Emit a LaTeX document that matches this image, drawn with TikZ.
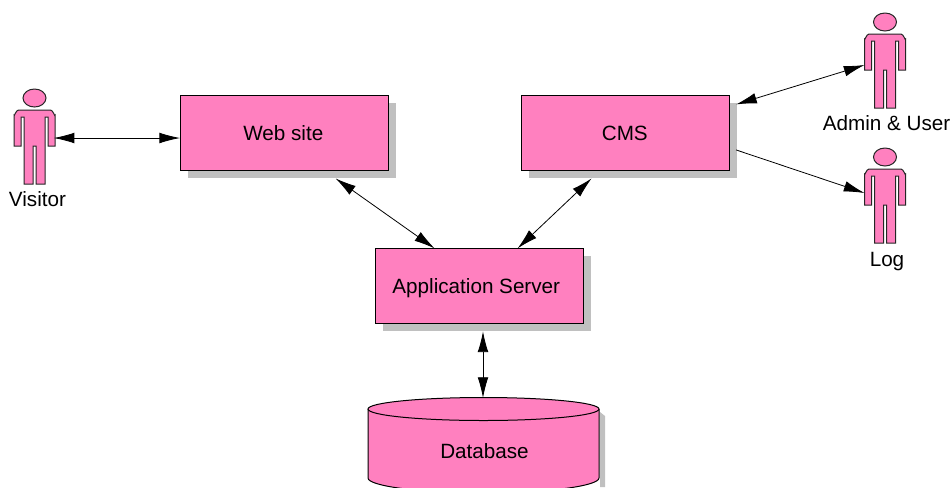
\documentclass[tikz,border=0pt]{standalone}
\usepackage{fontspec}
\setmainfont{Liberation Sans}
\usetikzlibrary{arrows.meta,shadows}
\definecolor{boxpink}{HTML}{FF80BF}
\definecolor{shadowgray}{HTML}{C0C0C0}
\tikzset{
  box/.style={draw=black,line width=0.75pt,fill=boxpink,minimum width=156pt,minimum height=56.25pt,
    inner sep=0pt,text depth=0pt,font=\fontsize{15.5pt}{18pt}\selectfont,
    general shadow={fill=shadowgray,shadow xshift=5.25pt,shadow yshift=-5.25pt}},
  label/.style={inner sep=0pt,text depth=0pt,font=\fontsize{15.5pt}{18pt}\selectfont},
  link/.style={line width=0.6pt,{Latex[length=15.5pt,width=8pt]}-{Latex[length=15.5pt,width=8pt]}},
  linkout/.style={line width=0.6pt,-{Latex[length=15.5pt,width=8pt]}},
  actor/.pic={
    \filldraw[draw=black!85,line width=0.75pt,fill=boxpink]
      (-20.5,48) -- (-20.5,17) to[out=-90,in=180] (-16,12) -- (16,12) to[out=0,in=-90] (20.5,17)
      -- (20.5,48) -- (13.5,48) -- (13.5,19) -- (10.5,19) -- (10.5,86) -- (1.5,86) -- (1.5,48)
      -- (-1.5,48) -- (-1.5,86) -- (-10.5,86) -- (-10.5,19) -- (-13.5,19) -- (-13.5,48) -- cycle;
    \filldraw[draw=black!85,line width=0.75pt,fill=boxpink] (0,0) circle[x radius=11.5,y radius=9];
    \coordinate (-left) at (-20.5,40);
    \coordinate (-right) at (20.5,40);
  }
}
\begin{document}
\begin{tikzpicture}[x=0.75pt,y=-0.75pt]
\useasboundingbox (0,0) rectangle (951,487);
% boxes
\node[box] (web) at (284.6,133.4) {\hspace{-2pt}Web site};
\node[box] (cms) at (625.6,133.4) {\hspace{-1.2pt}CMS};
\node[box] (app) at (479.6,286.4) {\hspace{-5pt}Application Server};
% database
\fill[shadowgray] (600,412) -- (605,416) -- (605,487) -- (600,487) -- cycle;
\filldraw[draw=black,line width=0.75pt,fill=boxpink] (368,409) -- (368,478)
  .. controls (368,486) and (420,493) .. (483.5,493) .. controls (547,493) and (599,486) .. (599,478) -- (599,409);
\filldraw[draw=black,line width=0.75pt,fill=boxpink] (483.5,409) circle[x radius=115.5,y radius=11.5];
\coordinate (dbtop) at (483,398);
\node[label] (db) at (484.5,451) {Database};
% actors
\pic (visitor) at (34.5,98) {actor};
\pic (admin) at (885,22) {actor};
\pic (log) at (885,157) {actor};
\node[label] (visitorlabel) at (37.5,199) {Visitor};
\node[label] (adminlabel) at (886.5,123) {Admin \& User};
\node[label] (loglabel) at (887,259) {Log};
% links
\draw[link] ([xshift=-1pt]visitor-right) -- (visitor-right -| web.west);
\draw[link] ([xshift=38.25pt,yshift=-5.25pt]web.south) -- ([xshift=-33.75pt]app.north);
\draw[link] ([xshift=-25.5pt,yshift=-5.25pt]cms.south) -- ([xshift=28.5pt]app.north);
\draw[link] ([yshift=-5.25pt]app.south -| dbtop) -- (dbtop);
\draw[link] ([xshift=4.5pt,yshift=-6.75pt]cms.north east) -- ([yshift=-2.25pt]admin-left);
\draw[linkout] ([xshift=4.5pt,yshift=-12.4pt]cms.east) -- ([yshift=3pt]log-left);
\end{tikzpicture}
\end{document}
